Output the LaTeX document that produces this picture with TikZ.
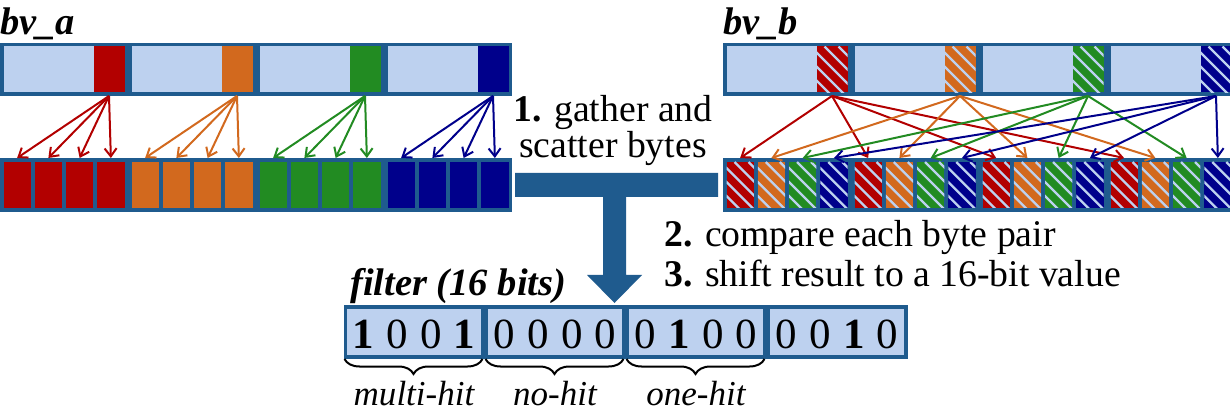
\documentclass[tikz,border=0pt]{standalone}
\usepackage{fontspec}
\setmainfont{Liberation Serif}
\usetikzlibrary{arrows.meta,decorations.pathreplacing,calc}
\definecolor{frameblue}{RGB}{31,91,142}
\definecolor{cellblue}{RGB}{189,209,239}
\definecolor{bytered}{RGB}{178,0,0}
\definecolor{byteorange}{RGB}{210,105,30}
\definecolor{bytegreen}{RGB}{34,139,34}
\definecolor{bytenavy}{RGB}{0,0,139}
% diagonal light stripes over a filled byte cell
\newcommand\stripecell[1]{%
  \begin{scope}
    \clip (#1.south west) rectangle (#1.north east);
    \foreach \off in {-62,-48,...,36}
      \draw[stripe] ($(#1.north west)+(\off,0)$) -- ++(60,60);
  \end{scope}}
\begin{document}
\begin{tikzpicture}[x=1pt,y=-1pt,
  cellbox/.style={inner sep=0pt,outer sep=0pt,draw=none,anchor=north west},
  frame/.style={cellbox,fill=frameblue},
  flow/.style={line width=2pt,-{Straight Barb[length=8pt,width=12pt]}},
  stripe/.style={draw=cellblue,line width=2.2pt},
  body/.style={font=\fontsize{37.7}{40}\selectfont,inner sep=0pt},
  title/.style={font=\fontsize{38.5}{40}\selectfont\bfseries\itshape,inner sep=0pt,anchor=base west},
  digit/.style={font=\fontsize{43}{45}\selectfont,inner sep=0pt,anchor=base},
  tag/.style={font=\fontsize{35}{37}\selectfont\itshape,inner sep=0pt,anchor=base},
]
\useasboundingbox (0,0) rectangle (1230,419);

% ---- bv_a : source word and gathered bytes
\node[frame,minimum width=511.5pt,minimum height=53pt] (a-top) at (0,43) {};
\foreach \g/\col in {0/bytered,1/byteorange,2/bytegreen,3/bytenavy} {
  \node[cellbox,fill=cellblue,minimum width=121pt,minimum height=46pt] (a-seg\g) at (3.5+128*\g,46.5) {};
  \node[cellbox,fill=\col,minimum width=31pt,minimum height=46pt] (a-byte\g) at (93.5+128*\g,46.5) {};
}
\node[frame,minimum width=511.5pt,minimum height=54pt] (a-bot) at (0,158) {};
\foreach \g/\col in {0/bytered,1/byteorange,2/bytegreen,3/bytenavy}
  \foreach \k in {0,...,3}
    \node[cellbox,fill=\col,minimum width=27.25pt,minimum height=46pt] (a-c\g\k) at (3.5+128*\g+31.25*\k,162) {};
\foreach \g/\col in {0/bytered,1/byteorange,2/bytegreen,3/bytenavy}
  \foreach \k in {0,...,3}
    \draw[flow,color=\col] ($(a-byte\g.south)+(0,3.5)$) -- ($(a-c\g\k.north)+(0,-4)$);

% ---- bv_b : source word and scattered bytes
\node[frame,minimum width=511.5pt,minimum height=53pt] (b-top) at (723,43) {};
\foreach \g/\col in {0/bytered,1/byteorange,2/bytegreen,3/bytenavy} {
  \node[cellbox,fill=cellblue,minimum width=121pt,minimum height=46pt] (b-seg\g) at (726.5+128*\g,46.5) {};
  \node[cellbox,fill=\col,minimum width=31pt,minimum height=46pt] (b-byte\g) at (816.5+128*\g,46.5) {};
  \stripecell{b-byte\g}
}
\node[frame,minimum width=511.5pt,minimum height=54pt] (b-bot) at (723,158) {};
\foreach \g in {0,...,3}
  \foreach \k/\col in {0/bytered,1/byteorange,2/bytegreen,3/bytenavy} {
    \node[cellbox,fill=\col,minimum width=27.25pt,minimum height=46pt] (b-c\g\k) at (726.5+128*\g+31.25*\k,162) {};
    \stripecell{b-c\g\k}
  }
\foreach \k/\col in {0/bytered,1/byteorange,2/bytegreen,3/bytenavy}
  \foreach \g in {0,...,3}
    \draw[flow,color=\col] ($(b-byte\k.south)+(0,3.5)$) -- ($(b-c\g\k.north)+(0,-4)$);

% ---- step labels
\node[body,anchor=base] (s1a) at (613,122) {\textbf{1.} gather and};
\node[body,anchor=base] (s1b) at (613,158) {scatter bytes};
\node[body,anchor=base west] (s2) at (664,247) {\textbf{2.} compare each byte pair};
\node[body,anchor=base west] (s3) at (664,287) {\textbf{3.} shift result to a 16-bit value};

% ---- merge arrow into the filter
\fill[frameblue] (515,173) -- (718,173) -- (718,197) -- (626,197) -- (626,275)
  -- (642,275) -- (614.5,303) -- (587,275) -- (603,275) -- (603,197) -- (515,197) -- cycle;

% ---- filter word
\node[frame,minimum width=564pt,minimum height=53.5pt] (f-box) at (343.5,305) {};
\foreach \i in {0,...,3}
  \node[cellbox,fill=cellblue,minimum width=134pt,minimum height=46.5pt] (f-seg\i) at (347+141*\i,308.5) {};
\foreach \i/\p/\v in {0/0/1,0/1/0,0/2/0,0/3/1, 1/0/0,1/1/0,1/2/0,1/3/0,
                      2/0/0,2/1/1,2/2/0,2/3/0, 3/0/0,3/1/0,3/2/1,3/3/0}
  \node[digit] (f-d\i\p) at (414+141*\i+33.7*\p-50.55,348) {\ifnum\v=1 \bfseries\fi\v};
\foreach \i/\t in {0/multi-hit,1/no-hit,2/one-hit} {
  \draw[line width=2pt,decorate,decoration={brace,mirror,amplitude=15pt}]
    ($(f-seg\i.south west)+(-2.5,4)$) -- ($(f-seg\i.south east)+(1.5,4)$);
  \node[tag] (f-tag\i) at ($(f-seg\i.south)+(0,50)$) {\t};
}

% ---- titles
\node[title] (t-a) at (0,35) {bv\_a};
\node[title] (t-b) at (723,35) {bv\_b};
\node[title] (t-f) at (350,295) {filter (16 bits)};
\end{tikzpicture}
\end{document}
